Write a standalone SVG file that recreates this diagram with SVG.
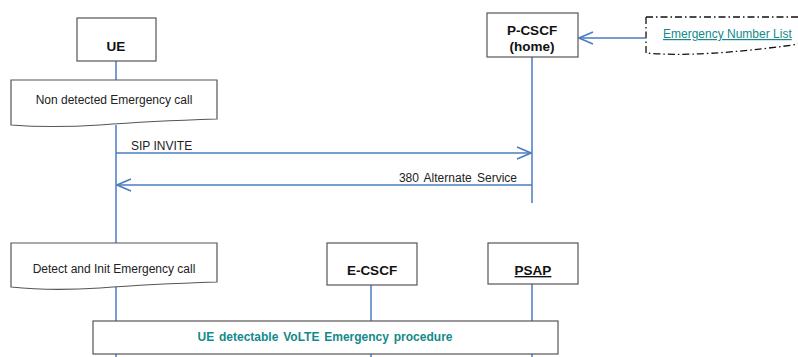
<svg xmlns="http://www.w3.org/2000/svg" width="798" height="357" viewBox="0 0 798 357">
<defs>
<style>
.box{fill:#fff;stroke:#555;stroke-width:1.2}
.life{stroke:#4a7cc0;stroke-width:1.5;fill:none}
.msg{stroke:#4a7cc0;stroke-width:1.5;fill:none}
.t{font-family:"Liberation Sans",Arial,sans-serif;font-size:12px;fill:#222}
.tb{font-family:"Liberation Sans",Arial,sans-serif;font-size:13.5px;font-weight:bold;fill:#111;text-anchor:middle}
.teal{fill:#148a8a}
</style>
<marker id="open" markerWidth="16" markerHeight="14" refX="15" refY="7" orient="auto" markerUnits="userSpaceOnUse">
<path d="M1,1 L15,7 L1,13" fill="none" stroke="#4a7cc0" stroke-width="1.5"/>
</marker>
</defs>
<rect width="798" height="357" fill="#fff"/>
<g id="lifelines">
<line class="life" x1="116" y1="61" x2="116" y2="80"/>
<line class="life" x1="116" y1="125" x2="116" y2="243"/>
<line class="life" x1="116" y1="286" x2="116" y2="357"/>
<line class="life" x1="532" y1="57" x2="532" y2="203"/>
<line class="life" x1="371" y1="285" x2="371" y2="357"/>
<line class="life" x1="532" y1="284" x2="532" y2="357"/>
</g>
<g id="connectors">
<line class="msg" x1="116" y1="153" x2="531" y2="153" marker-end="url(#open)"/>
<line class="msg" x1="532" y1="185" x2="117" y2="185" marker-end="url(#open)"/>
<line class="msg" x1="645" y1="38" x2="579" y2="38" marker-end="url(#open)"/>
<text class="t" x="131" y="150">SIP INVITE</text>
<text class="t" x="517" y="182" text-anchor="end" word-spacing="2">380 Alternate Service</text>
</g>
<g id="ue">
<rect class="box" x="77" y="18" width="79" height="43"/>
<text class="tb" x="116" y="51">UE</text>
</g>
<g id="pcscf">
<rect class="box" x="487" y="13" width="91" height="44"/>
<text class="tb" x="532" y="35">P-CSCF</text>
<text class="tb" x="532" y="51">(home)</text>
</g>
<g id="enl">
<path d="M646,17 L800,17 M646,17 L646,53 Q700,58 800,44" fill="#fff" stroke="#111" stroke-width="1.3" stroke-dasharray="7,3,1.5,3"/>
<text class="t teal" x="663" y="38" text-decoration="underline">Emergency Number List</text>
</g>
<g id="nondetected">
<path class="box" d="M11,80 L217,80 L217,119 Q150,121 100,125 Q50,128 11,125 Z"/>
<text class="t" x="114" y="104" text-anchor="middle">Non detected Emergency call</text>
</g>
<g id="detect">
<path class="box" d="M11,243 L217,243 L217,282 Q150,284 100,288 Q50,291 11,287 Z"/>
<text class="t" x="114" y="273" text-anchor="middle">Detect and Init Emergency call</text>
</g>
<g id="ecscf">
<rect class="box" x="327" y="243" width="90" height="42"/>
<text class="tb" x="372" y="275">E-CSCF</text>
</g>
<g id="psap">
<rect class="box" x="488" y="243" width="90" height="41"/>
<text class="tb" x="533" y="275" text-decoration="underline">PSAP</text>
</g>
<g id="procedure">
<rect class="box" x="93" y="321" width="465" height="33"/>
<text class="t teal" x="325" y="341" text-anchor="middle" font-weight="bold" word-spacing="1.5">UE detectable VoLTE Emergency procedure</text>
</g>
</svg>
